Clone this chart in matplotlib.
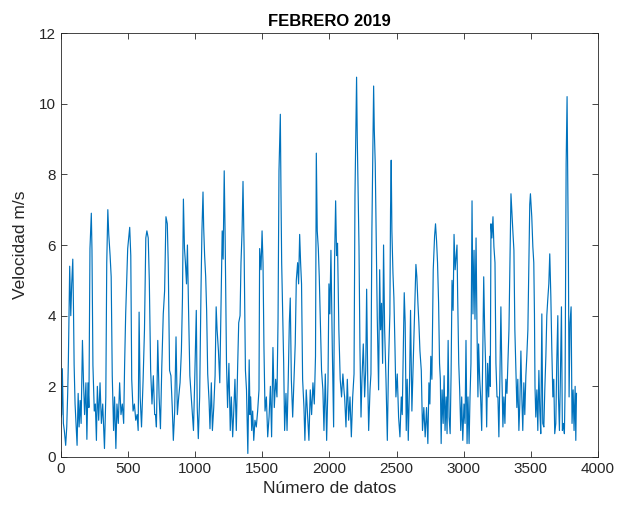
import matplotlib.pyplot as plt

# indice de dato y velocidad (m/s)
idx = [0, 5, 10, 18, 25, 35, 43, 50, 55, 65, 73, 80, 88, 93, 98, 105, 113, 120, 128, 135,
       143, 150, 160, 168, 176, 186, 193, 201, 208, 216, 226, 231, 238, 248, 256, 264, 271, 281, 291, 301,
       311, 324, 334, 341, 349, 356, 366, 374, 382, 392, 399, 409, 417, 427, 437, 447, 457, 467, 474, 482,
       489, 497, 512, 520, 527, 537, 547, 557, 567, 575, 582, 590, 600, 612, 622, 632, 640, 650, 658, 668,
       678, 688, 698, 704, 711, 721, 731, 741, 751, 762, 772, 782, 792, 799, 809, 819, 829, 837, 847, 857,
       867, 877, 887, 897, 905, 912, 920, 927, 935, 942, 950, 960, 967, 977, 987, 997, 1008, 1015, 1023, 1033,
       1043, 1050, 1058, 1063, 1070, 1078, 1085, 1093, 1103, 1110, 1120, 1128, 1138, 1148, 1156, 1163, 1173, 1183, 1193, 1201,
       1208, 1216, 1223, 1233, 1241, 1251, 1261, 1269, 1279, 1286, 1296, 1306, 1316, 1324, 1334, 1341, 1349, 1356, 1364, 1374,
       1382, 1392, 1402, 1408, 1413, 1421, 1428, 1436, 1445, 1455, 1465, 1475, 1480, 1490, 1498, 1505, 1512, 1520, 1530, 1540,
       1550, 1560, 1569, 1579, 1589, 1599, 1609, 1617, 1624, 1629, 1634, 1639, 1644, 1651, 1659, 1666, 1676, 1684, 1693, 1701,
       1708, 1716, 1726, 1736, 1745, 1753, 1763, 1770, 1778, 1785, 1792, 1800, 1810, 1817, 1827, 1837, 1847, 1857, 1867, 1877,
       1887, 1896, 1902, 1909, 1917, 1924, 1932, 1941, 1951, 1959, 1969, 1979, 1989, 1996, 2003, 2011, 2021, 2031, 2038, 2046,
       2053, 2060, 2070, 2080, 2090, 2100, 2110, 2113, 2123, 2133, 2143, 2153, 2163, 2173, 2183, 2190, 2197, 2202, 2207, 2212,
       2220, 2227, 2235, 2242, 2252, 2262, 2270, 2277, 2285, 2292, 2302, 2309, 2316, 2324, 2329, 2334, 2341, 2349, 2356, 2366,
       2374, 2381, 2388, 2396, 2403, 2411, 2421, 2431, 2440, 2450, 2455, 2460, 2465, 2473, 2480, 2488, 2495, 2505, 2515, 2525,
       2535, 2542, 2550, 2557, 2564, 2572, 2579, 2587, 2597, 2604, 2614, 2624, 2634, 2644, 2651, 2659, 2666, 2674, 2684, 2693,
       2703, 2713, 2723, 2733, 2741, 2748, 2755, 2763, 2773, 2783, 2790, 2798, 2805, 2813, 2820, 2826, 2832, 2839, 2847, 2854,
       2861, 2869, 2876, 2884, 2891, 2899, 2906, 2913, 2921, 2928, 2936, 2943, 2950, 2955, 2963, 2970, 2978, 2985, 2993, 3002,
       3010, 3017, 3025, 3032, 3040, 3047, 3054, 3062, 3069, 3077, 3084, 3092, 3099, 3106, 3111, 3119, 3126, 3134, 3141, 3149,
       3156, 3163, 3171, 3178, 3186, 3193, 3198, 3203, 3210, 3218, 3225, 3233, 3240, 3248, 3255, 3262, 3270, 3277, 3285, 3292,
       3299, 3307, 3314, 3322, 3329, 3337, 3344, 3352, 3359, 3366, 3374, 3381, 3389, 3396, 3403, 3411, 3418, 3426, 3433, 3440,
       3448, 3455, 3463, 3470, 3478, 3485, 3492, 3497, 3507, 3515, 3522, 3527, 3531, 3537, 3545, 3552, 3560, 3567, 3574, 3582,
       3589, 3597, 3604, 3612, 3619, 3626, 3634, 3641, 3649, 3656, 3664, 3671, 3678, 3686, 3693, 3701, 3706, 3713, 3720, 3728,
       3735, 3743, 3750, 3755, 3763, 3770, 3775, 3780, 3785, 3792, 3800, 3807, 3815, 3822, 3830, 3835, 3840]

vel = [1.13, 1.2, 2.5, 0.95, 0.75, 0.33, 0.85, 1.8, 2.7, 5.4, 4.0, 4.9, 5.6, 4.25, 2.6, 1.5, 0.85, 0.33, 1.8, 0.85,
       1.6, 0.95, 3.3, 2.1, 1.2, 2.1, 0.5, 2.1, 1.4, 5.9, 6.9, 5.85, 2.6, 1.3, 1.5, 0.47, 2.0, 1.04, 2.1, 0.95,
       1.5, 0.24, 1.7, 5.5, 7.0, 6.3, 5.7, 5.1, 2.3, 0.75, 1.7, 0.24, 1.5, 0.95, 2.1, 1.2, 1.5, 0.95, 2.6, 4.05,
       4.9, 5.9, 6.5, 5.7, 2.2, 1.3, 1.5, 1.04, 1.2, 0.75, 4.1, 1.7, 0.85, 2.2, 3.6, 6.2, 6.4, 6.2, 5.0, 2.45,
       1.5, 2.3, 1.2, 1.2, 0.85, 3.3, 1.7, 0.8, 2.55, 4.05, 4.7, 6.8, 6.6, 5.5, 2.45, 2.3, 1.4, 0.47, 1.3, 3.4,
       1.2, 1.7, 2.1, 3.0, 4.5, 7.3, 5.9, 5.5, 4.9, 6.0, 4.25, 2.3, 1.9, 1.3, 0.75, 2.3, 4.15, 1.4, 0.52, 1.7,
       4.7, 6.4, 7.5, 6.5, 5.7, 5.1, 4.15, 2.35, 1.6, 0.8, 2.1, 0.75, 1.4, 2.3, 4.25, 3.6, 3.0, 2.1, 4.5, 6.4,
       5.6, 8.1, 6.2, 2.65, 1.4, 2.65, 0.75, 1.7, 0.57, 1.2, 2.2, 0.75, 2.55, 3.8, 4.0, 5.5, 6.4, 7.8, 5.9, 2.45,
       1.9, 0.1, 2.75, 1.2, 1.7, 0.75, 1.3, 0.47, 1.04, 0.85, 1.3, 1.9, 5.9, 5.3, 6.4, 5.5, 3.1, 1.3, 1.7, 0.57,
       1.13, 2.0, 0.57, 3.1, 1.4, 2.2, 1.7, 3.9, 8.1, 8.9, 9.7, 7.4, 5.5, 4.15, 2.65, 0.75, 1.8, 0.75, 2.2, 3.8,
       4.5, 2.2, 1.13, 2.2, 3.2, 5.0, 5.5, 4.9, 6.3, 5.5, 4.9, 2.2, 1.4, 0.47, 1.9, 1.2, 0.47, 1.9, 1.2, 2.1,
       1.5, 2.85, 8.6, 6.4, 5.9, 5.1, 3.8, 2.45, 1.9, 0.75, 2.35, 0.47, 2.1, 4.9, 4.05, 5.85, 3.1, 0.85, 5.55, 7.25,
       5.7, 6.05, 3.6, 2.2, 1.7, 2.35, 1.8, 1.7, 0.85, 2.2, 1.04, 1.7, 0.57, 1.7, 2.35, 7.4, 9.4, 10.75, 9.05, 7.9,
       5.95, 3.1, 1.13, 2.2, 3.2, 1.7, 2.45, 4.75, 2.2, 0.75, 1.9, 2.35, 6.4, 9.05, 10.5, 9.25, 8.3, 6.1, 3.95, 1.9,
       5.3, 3.6, 4.35, 2.65, 6.0, 3.6, 2.2, 0.47, 2.65, 4.05, 7.0, 8.4, 6.4, 5.2, 4.5, 3.1, 1.7, 2.35, 1.13, 0.57,
       1.7, 1.2, 3.0, 4.65, 3.8, 0.75, 2.2, 0.47, 2.2, 4.15, 1.3, 2.65, 3.9, 5.45, 5.1, 4.35, 3.8, 3.0, 2.45, 0.75,
       1.4, 0.57, 1.4, 0.38, 2.1, 1.5, 2.85, 2.2, 5.3, 6.25, 6.6, 6.1, 5.5, 4.35, 2.65, 2.2, 0.38, 1.9, 0.95, 2.3,
       0.75, 1.7, 0.66, 3.3, 1.13, 0.66, 2.35, 5.0, 4.15, 6.3, 5.3, 5.65, 6.0, 4.55, 2.65, 1.9, 0.75, 1.7, 0.47, 1.5,
       0.95, 3.3, 0.38, 1.7, 0.38, 1.7, 2.65, 7.25, 4.05, 5.85, 3.9, 6.2, 3.6, 1.7, 3.2, 2.2, 1.7, 0.75, 2.65, 5.1,
       3.6, 2.65, 0.85, 2.65, 1.7, 2.85, 2.0, 6.6, 6.2, 6.8, 5.95, 5.5, 2.65, 1.7, 1.7, 0.57, 2.35, 4.25, 2.2, 0.85,
       1.7, 0.95, 2.2, 1.8, 2.65, 3.6, 5.45, 7.45, 6.9, 6.4, 5.85, 3.6, 2.45, 1.4, 2.2, 0.75, 1.5, 3.0, 1.7, 0.75,
       2.1, 1.2, 2.3, 2.85, 3.6, 5.45, 7.15, 7.45, 6.8, 5.95, 5.5, 4.05, 2.0, 1.13, 1.9, 0.75, 2.45, 1.3, 0.66, 4.05,
       0.95, 0.85, 1.9, 2.85, 4.0, 4.45, 4.9, 5.75, 4.55, 3.1, 1.7, 2.2, 0.66, 0.95, 2.65, 4.0, 1.7, 0.75, 2.2, 4.25,
       0.75, 0.95, 0.66, 1.9, 8.3, 10.2, 7.85, 5.5, 1.7, 3.8, 4.25, 0.95, 1.9, 0.75, 2.0, 0.47, 1.8]

xticks = [0, 500, 1000, 1500, 2000, 2500, 3000, 3500, 4000]
yticks = [0, 2, 4, 6, 8, 10, 12]

plt.rcParams['font.family'] = ['Liberation Sans', 'DejaVu Sans']

fig = plt.figure(figsize=(6.19, 5.08), dpi=100)
ax = fig.add_axes([0.0985, 0.1004, 0.8675, 0.8346])
ax.plot(idx, vel, color='#0072BD', linewidth=0.85)

ax.set_xlim(0, 4000)
ax.set_ylim(0, 12)
ax.set_xticks(xticks)
ax.set_yticks(yticks)
ax.tick_params(direction='in', top=True, right=True, length=4, width=0.6,
               labelsize=11, colors='#262626')
for s in ax.spines.values():
    s.set_color('#262626')
    s.set_linewidth(0.6)

ax.set_title('FEBRERO 2019', fontsize=12, fontweight='bold', color='black', pad=5)
ax.set_xlabel('Número de datos', fontsize=12.5, color='#262626')
ax.set_ylabel('Velocidad m/s', fontsize=12.5, color='#262626', labelpad=8)

fig.savefig('out.png', dpi=100)
